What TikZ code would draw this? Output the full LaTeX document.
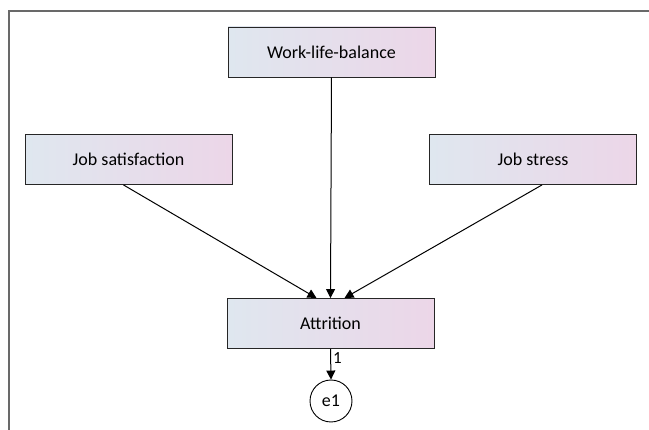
\documentclass[tikz,border=0pt]{standalone}
\usepackage{fontspec}
\setmainfont{Carlito}
\usetikzlibrary{arrows.meta}

\definecolor{boxleft}{RGB}{223,231,239}
\definecolor{boxright}{RGB}{236,214,232}
\definecolor{framegray}{RGB}{105,105,105}

\begin{document}
\begin{tikzpicture}[x=1pt, y=-1pt,
    var/.style={draw=black!85, line width=0.9pt, left color=boxleft, right color=boxright,
      minimum width=207pt, minimum height=50pt, font=\fontsize{18}{20}\selectfont},
    err/.style={draw=black, circle, line width=0.9pt, fill=white, minimum size=42pt,
      inner sep=0pt, font=\fontsize{18}{20}\selectfont},
    link/.style={-{Triangle[length=9pt,width=9pt]}, line width=1pt}]
    \useasboundingbox (0,0) rectangle (649,430);

    % frame
    \draw[framegray, line width=1.2pt] (9,430) -- (9,11) -- (649,11);

    % observed variables
    \node[var] (wlb) at (331.5, 52) {Work-life-balance};
    \node[var] (jsat) at (128.5, 159.5) {Job satisfaction};
    \node[var] (jstr) at (533, 159.5) {Job stress};
    \node[var] (att) at (330.5, 323.5) {Attrition};

    % error term
    \node[err] (e1) at (331, 401) {e1};

    % paths
    \draw[link] (wlb.south) -- (att.north);
    \draw[link] ([xshift=-5pt]jsat.south) -- ([xshift=-14pt]att.north);
    \draw[link] ([xshift=9pt]jstr.south) -- ([xshift=14pt]att.north);
    \draw[link] (att.south) -- node[right, pos=0.3, inner sep=2pt, font=\fontsize{17}{18}\selectfont] {1} (e1.north);
\end{tikzpicture}
\end{document}
